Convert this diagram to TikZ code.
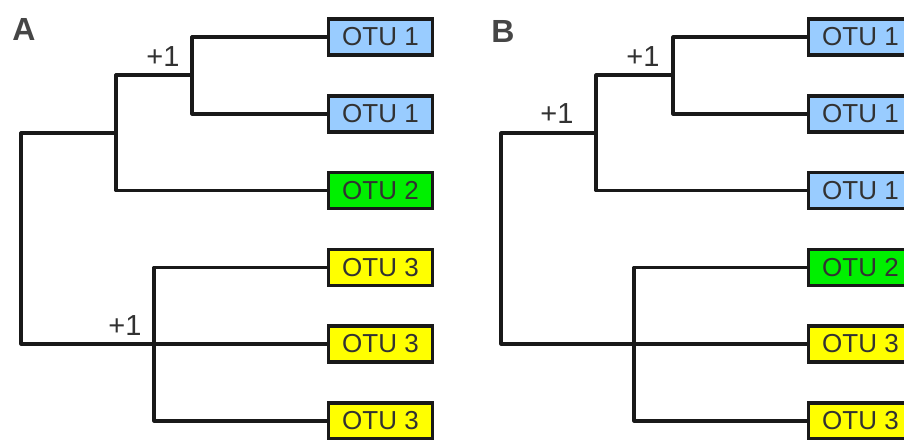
\documentclass[tikz,border=0pt]{standalone}
\usepackage{fontspec}
\setmainfont{Liberation Sans}
\definecolor{otublue}{RGB}{153,204,255}
\definecolor{otugreen}{RGB}{0,240,0}
\definecolor{otuyellow}{RGB}{255,255,0}
\definecolor{txtgray}{RGB}{50,50,50}
\begin{document}
\begin{tikzpicture}[x=1pt,y=-1pt,
  otu/.style={draw=black!90, line width=3.2pt, minimum width=104pt, minimum height=36pt, inner sep=0pt,
    text=txtgray, font=\fontsize{26}{30}\selectfont},
  b1/.style={otu, fill=otublue},
  b2/.style={otu, fill=otugreen},
  b3/.style={otu, fill=otuyellow},
  branch/.style={draw=black!90, line width=3.2pt, line join=round, line cap=round},
  plus/.style={text=txtgray, font=\fontsize{29}{32}\selectfont, inner sep=0pt},
  panel/.style={text=txtgray!90, font=\bfseries\fontsize{32}{35}\selectfont, inner sep=0pt}]
\useasboundingbox (0,0) rectangle (904,439);
\clip (0,0) rectangle (904,439);
% Panel A
\node[panel] (labA) at (24,29) {A};
\node[b1] (a1) at (380.5,37) {OTU 1};
\node[b1] (a2) at (380.5,114) {OTU 1};
\node[b2] (a3) at (380.5,190.5) {OTU 2};
\node[b3] (a4) at (380.5,267.5) {OTU 3};
\node[b3] (a5) at (380.5,344) {OTU 3};
\node[b3] (a6) at (380.5,421) {OTU 3};
\coordinate (an1) at (192,75);
\coordinate (an2) at (116,133);
\coordinate (ar) at (21,240);
\coordinate (an3) at (154,344);
\draw[branch] (an1) |- (a1.west);
\draw[branch] (an1) |- (a2.west);
\draw[branch] (an2) |- (an1);
\draw[branch] (an2) |- (a3.west);
\draw[branch] (ar) |- (an2);
\draw[branch] (ar) |- (a5.west);
\draw[branch] (an3) |- (a4.west);
\draw[branch] (an3) |- (a6.west);
\node[plus] (pa1) at (163,57) {+1};
\node[plus] (pa2) at (125,326) {+1};
% Panel B
\node[panel] (labB) at (503,31) {B};
\node[b1] (b1n) at (860.5,37) {OTU 1};
\node[b1] (b2n) at (860.5,114) {OTU 1};
\node[b1] (b3n) at (860.5,190.5) {OTU 1};
\node[b2] (b4n) at (860.5,267.5) {OTU 2};
\node[b3] (b5n) at (860.5,344) {OTU 3};
\node[b3] (b6n) at (860.5,421) {OTU 3};
\coordinate (bn1) at (673,75);
\coordinate (bn2) at (596,133);
\coordinate (br) at (501,240);
\coordinate (bn3) at (634,344);
\draw[branch] (bn1) |- (b1n.west);
\draw[branch] (bn1) |- (b2n.west);
\draw[branch] (bn2) |- (bn1);
\draw[branch] (bn2) |- (b3n.west);
\draw[branch] (br) |- (bn2);
\draw[branch] (br) |- (b5n.west);
\draw[branch] (bn3) |- (b4n.west);
\draw[branch] (bn3) |- (b6n.west);
\node[plus] (pb1) at (643,57) {+1};
\node[plus] (pb2) at (557,114) {+1};
\end{tikzpicture}
\end{document}
